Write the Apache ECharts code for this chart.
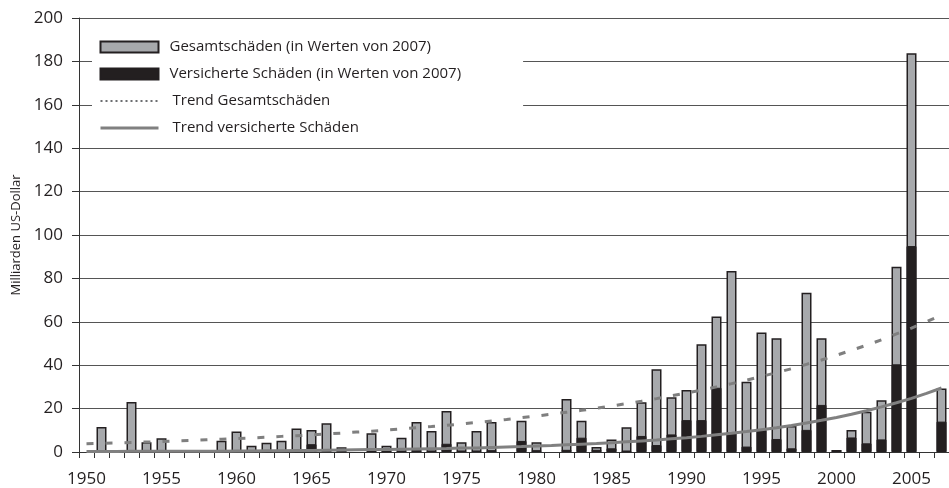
<!DOCTYPE html>
<html>
<head>
<meta charset="utf-8">
<script src="https://cdn.jsdelivr.net/npm/echarts@6/dist/echarts.min.js"></script>
<style>
html,body{margin:0;padding:0;background:#fff;}
#chart{width:949px;height:488px;}
</style>
</head>
<body>
<div id="chart"></div>
<script>
// ---- data ----
const years = ["1950","1951","1952","1953","1954","1955","1956","1957","1958","1959",
  "1960","1961","1962","1963","1964","1965","1966","1967","1968","1969",
  "1970","1971","1972","1973","1974","1975","1976","1977","1978","1979",
  "1980","1981","1982","1983","1984","1985","1986","1987","1988","1989",
  "1990","1991","1992","1993","1994","1995","1996","1997","1998","1999",
  "2000","2001","2002","2003","2004","2005","2006","2007"];

const totalLosses = [null,11.5,null,23,4.5,6.3,0.8,null,null,5.2,
  9.4,2.9,4.3,5.2,10.8,10.1,13.2,2.2,null,8.6,
  2.9,6.6,13.8,9.7,18.9,4.5,9.7,13.8,null,14.4,
  4.5,null,24.4,14.4,2.3,5.8,11.4,22.9,38.1,25.2,
  28.6,49.6,62.4,83.4,32.4,55.1,52.4,12,73.4,52.4,
  0.9,10.1,18.6,23.8,85.4,183.7,null,29.3];

const insuredLosses = [null,0.3,null,0.3,0.3,0.3,0.3,null,null,0.3,
  0.5,0.3,0.3,0.5,0.5,3.6,0.5,0.3,null,0.5,
  0.3,0.5,0.8,0.5,3.8,0.5,0.5,0.8,null,5.1,
  0.8,null,1.0,6.6,1.0,1.7,0.3,7.4,3.2,8.1,
  14.7,14.7,29.6,9.1,2.5,10.1,6.0,1.7,10.2,21.7,
  0.9,6.7,4.0,5.8,40.4,94.9,null,14];

const trendTotal = [3.8,4.0,4.2,4.4,4.6,4.8,5.1,5.3,5.6,5.9,
  6.2,6.5,6.8,7.2,7.5,7.9,8.3,8.7,9.2,9.6,
  10.1,10.6,11.2,11.7,12.3,12.9,13.6,14.3,15.0,15.8,
  16.6,17.4,18.3,19.2,20.2,21.2,22.3,23.4,24.6,25.9,
  27.2,28.5,30.0,31.5,33.1,34.8,36.6,38.4,40.4,42.4,
  44.6,46.9,49.2,51.7,54.4,57.1,60.0,63.1];

const trendInsured = [0.2,0.2,0.2,0.3,0.3,0.3,0.3,0.4,0.4,0.4,
  0.5,0.5,0.6,0.6,0.7,0.7,0.8,0.9,1.0,1.1,
  1.2,1.3,1.4,1.5,1.6,1.8,1.9,2.1,2.3,2.5,
  2.8,3.0,3.3,3.6,3.9,4.3,4.7,5.1,5.5,6.1,
  6.6,7.2,7.9,8.6,9.4,10.3,11.2,12.2,13.4,14.6,
  15.9,17.4,19.0,20.8,22.7,24.7,27.0,29.5];

const yTicks = [0,20,40,60,80,100,120,140,160,180,200];

const names = ["Gesamtschäden (in Werten von 2007)",
  "Versicherte Schäden (in Werten von 2007)",
  "Trend Gesamtschäden",
  "Trend versicherte Schäden"];
const yAxisName = "Milliarden US-Dollar";

// ---- chart ----
const FONT = "Open Sans";
const TXT = "#231f20";
const chart = echarts.init(document.getElementById('chart'), null, {renderer: 'canvas'});
chart.setOption({
  animation: false,
  backgroundColor: '#fff',
  textStyle: {fontFamily: FONT, color: TXT},
  grid: {left: 79, top: 18, width: 870, height: 434, containLabel: false},
  legend: {
    orient: 'vertical',
    left: 92, top: 33,
    padding: [6, 62, 6, 7],
    backgroundColor: '#fff',
    itemWidth: 58, itemHeight: 11, itemGap: 11,
    textStyle: {fontFamily: FONT, fontSize: 15, color: TXT, lineHeight: 16, padding: [0, 0, 0, 6]},
    data: [
      {name: names[0], icon: 'rect'},
      {name: names[1], icon: 'rect'},
      {name: names[2], lineStyle: {type: [2, 3], width: 2, color: '#6d6e71'}, itemStyle: {opacity: 0}, textStyle: {padding: [0,0,0,9]}},
      {name: names[3], lineStyle: {width: 3, color: '#808080'}, itemStyle: {opacity: 0}, textStyle: {padding: [0,0,0,9]}}
    ]
  },
  xAxis: {
    type: 'category',
    data: years,
    boundaryGap: true,
    axisLine: {lineStyle: {color: '#333', width: 1}},
    axisTick: {show: true, interval: 0, length: 6, lineStyle: {color: '#333'}},
    axisLabel: {interval: 4, fontSize: 17, color: TXT, margin: 19, fontFamily: FONT},
    splitLine: {show: false}
  },
  yAxis: {
    type: 'value',
    min: yTicks[0], max: yTicks[yTicks.length - 1], interval: 20,
    name: yAxisName,
    nameLocation: 'middle',
    nameGap: 54,
    nameTextStyle: {fontSize: 13, color: TXT, fontFamily: FONT},
    axisLine: {show: true, lineStyle: {color: '#333', width: 1}},
    axisTick: {show: true, length: 7, lineStyle: {color: '#333'}},
    axisLabel: {fontSize: 17, color: TXT, margin: 16, fontFamily: FONT},
    splitLine: {show: true, lineStyle: {color: '#555', width: 1}}
  },
  series: [
    {
      name: names[0], type: 'bar', data: totalLosses,
      barWidth: 10, barGap: '-100%',
      itemStyle: {color: '#a7a9ac', borderColor: '#231f20', borderWidth: 1.5},
      z: 2
    },
    {
      name: names[1], type: 'bar', data: insuredLosses,
      barWidth: 10, barGap: '-100%',
      itemStyle: {color: '#231f20', borderColor: '#231f20', borderWidth: 1},
      z: 3
    },
    {
      name: names[2], type: 'line', data: trendTotal,
      symbol: 'none', smooth: false,
      lineStyle: {color: '#7f7f7f', width: 3, type: [7, 12]},
      z: 4
    },
    {
      name: names[3], type: 'line', data: trendInsured,
      symbol: 'none', smooth: false,
      lineStyle: {color: '#808080', width: 3},
      z: 4
    }
  ]
});
</script>
</body>
</html>
